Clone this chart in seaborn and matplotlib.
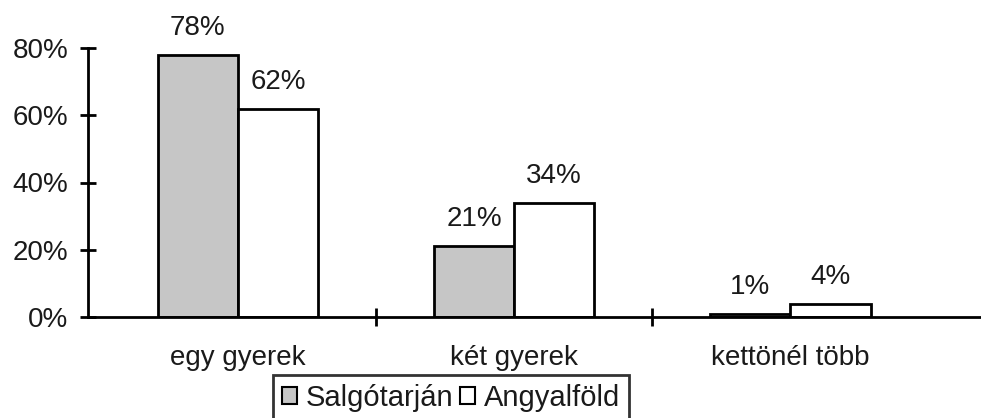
import matplotlib.pyplot as plt
from matplotlib.patches import Patch
import seaborn as sns
import pandas as pd

categories = ["egy gyerek", "két gyerek", "kettönél több"]
groups = ["Salgótarján", "Angyalföld"]
salgotarjan = [78, 21, 1]
angyalfold = [62, 34, 4]

df = pd.DataFrame({
    "kat": categories * 2,
    "csoport": [groups[0]] * 3 + [groups[1]] * 3,
    "ertek": salgotarjan + angyalfold,
})
colors = {"Salgótarján": "#c6c6c6", "Angyalföld": "white"}

sns.set_style("white")
plt.rcParams["font.family"] = ["Liberation Sans", "DejaVu Sans"]
plt.rcParams["text.color"] = "#1a1a1a"
plt.rcParams["xtick.color"] = "black"
plt.rcParams["ytick.color"] = "black"
plt.rcParams["xtick.labelcolor"] = "#1a1a1a"
plt.rcParams["ytick.labelcolor"] = "#1a1a1a"

fig = plt.figure(figsize=(9.81, 4.18), dpi=100)
ax = fig.add_axes([88 / 981, 101 / 418, 893 / 981, 269 / 418])

sns.barplot(data=df, x="kat", y="ertek", hue="csoport", palette=colors,
            width=0.58, edgecolor="black", linewidth=2.0, gap=0,
            legend=False, ax=ax)

# value labels above bars
for cont, vals in zip(ax.containers, [salgotarjan, angyalfold]):
    for bar, v in zip(cont, vals):
        ax.annotate(f"{v}%", (bar.get_x() + bar.get_width() / 2, v),
                    xytext=(0, 10), textcoords="offset points",
                    ha="center", va="bottom", fontsize=20, clip_on=False)

ax.set_xlim(-0.543, 2.69)
ax.set_ylim(0, 80)
ax.set_yticks([0, 20, 40, 60, 80])
ax.set_yticklabels(["0%", "20%", "40%", "60%", "80%"])
ax.set_xticks([0, 1, 2])
ax.set_xticklabels(categories)
ax.set_xticks([0.5, 1.5], minor=True)
ax.set_xlabel("")
ax.set_ylabel("")

for s in ["top", "right"]:
    ax.spines[s].set_visible(False)
for s in ["left", "bottom"]:
    ax.spines[s].set_linewidth(2.0)
    ax.spines[s].set_color("black")

ax.tick_params(axis="y", which="major", direction="inout", length=12,
               width=2.0, labelsize=20, pad=8, left=True)
ax.tick_params(axis="x", which="major", length=0, labelsize=20, pad=20)
ax.tick_params(axis="x", which="minor", direction="inout", length=13,
               width=2.0, bottom=True)

handles = [Patch(facecolor=colors[g], edgecolor="black", linewidth=1.5, label=g)
           for g in groups]
leg = fig.legend(handles=handles, loc="upper center", ncol=2,
                 bbox_to_anchor=(451 / 981, 43 / 418), borderaxespad=0,
                 frameon=True, fancybox=False, fontsize=21, handlelength=0.5,
                 handleheight=0.5, handletextpad=0.3, columnspacing=0.25,
                 borderpad=0.3)
leg.get_frame().set_edgecolor("black")
leg.get_frame().set_linewidth(2.0)

fig.savefig("out.png", dpi=100)
